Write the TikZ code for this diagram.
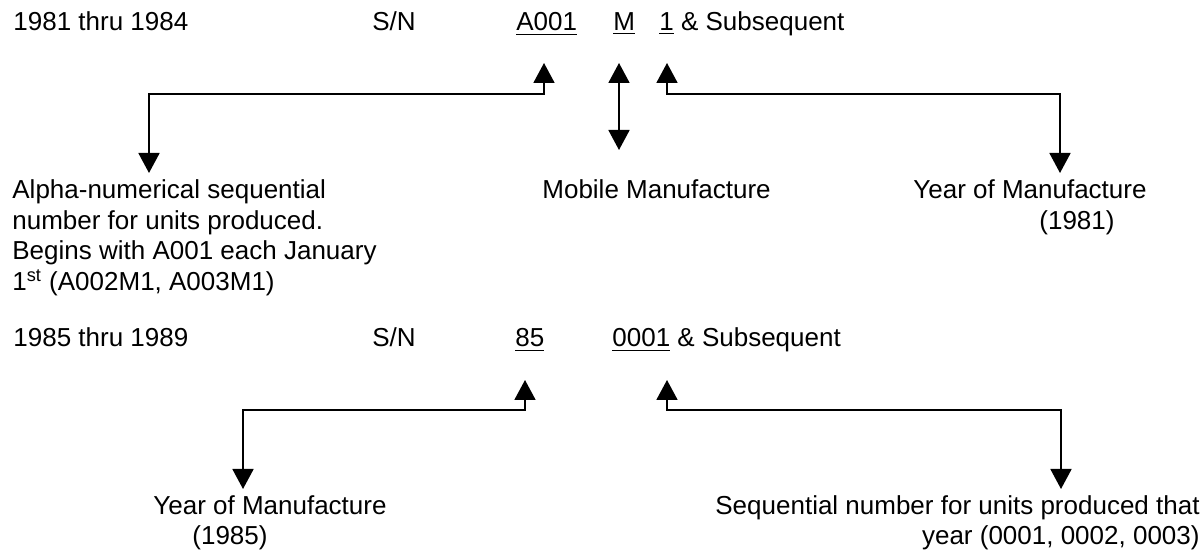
\documentclass[tikz,border=0pt]{standalone}
\usepackage{fontspec}
\setmainfont{Liberation Sans}
\usetikzlibrary{arrows.meta}

\tikzset{
  txt/.style={inner sep=0pt, anchor=base west, font=\fontsize{13}{15.25}\selectfont},
  dptr/.style={{Triangle[width=10.5pt,length=10pt]}-{Triangle[width=10.5pt,length=10pt]}, line width=0.9pt},
}

\begin{document}
\begin{tikzpicture}[x=0.5pt, y=-0.5pt]
    \useasboundingbox (0,0) rectangle (1201,550);

    % 1981 thru 1984 (multi-line nodes sit on their last baseline)
    \node[txt] (yr1)  at (13,31)  {1981 thru 1984};
    \node[txt] (sn1)  at (372,31) {S/N};
    \node[txt] (a001) at (516,31) {\underline{A001}};
    \node[txt] (mob)  at (613,31) {\underline{M}};
    \node[txt] (one)  at (659,31) {\underline{1} \& Subsequent};

    \node[txt, align=left] (alpha) at (12,290.5)
        {Alpha-numerical sequential\\number for units produced.\\Begins with A001 each January\\1\textsuperscript{st} (A002M1, A003M1)};
    \node[txt] (mobtxt) at (542,199) {Mobile Manufacture};
    \node[txt, align=left] (yom1) at (913,229.5) {Year of Manufacture\\\hspace*{63pt}(1981)};

    \coordinate (bar1) at (0,94);
    \coordinate (pa001)  at (544,63);
    \coordinate (palpha) at (149,173);
    \coordinate (pm)     at (619,63);
    \coordinate (pmtxt)  at (619,150);
    \coordinate (pone)   at (667,63);
    \coordinate (pyom1)  at (1060,173);

    \draw[dptr] (pa001) -- (pa001 |- bar1) -| (palpha);
    \draw[dptr] (pm) -- (pmtxt);
    \draw[dptr] (pone) -- (pone |- bar1) -| (pyom1);

    % 1985 thru 1989
    \node[txt] (yr2)  at (13,347)  {1985 thru 1989};
    \node[txt] (sn2)  at (372,347) {S/N};
    \node[txt] (y85)  at (515,347) {\underline{85}};
    \node[txt] (seq)  at (612,347) {\underline{0001} \& Subsequent};

    \node[txt, align=left] (yom2) at (153,545) {Year of Manufacture\\\hspace*{19.5pt}(1985)};
    \node[txt, align=right, anchor=base east] (seqtxt) at (1200,545)
        {Sequential number for units produced that\\year (0001, 0002, 0003)};

    \coordinate (bar2) at (0,410);
    \coordinate (py85)  at (525,380);
    \coordinate (pyom2) at (243,489);
    \coordinate (pseq)  at (667,380);
    \coordinate (pseqt) at (1061,489);

    \draw[dptr] (py85) -- (py85 |- bar2) -| (pyom2);
    \draw[dptr] (pseq) -- (pseq |- bar2) -| (pseqt);
\end{tikzpicture}
\end{document}
